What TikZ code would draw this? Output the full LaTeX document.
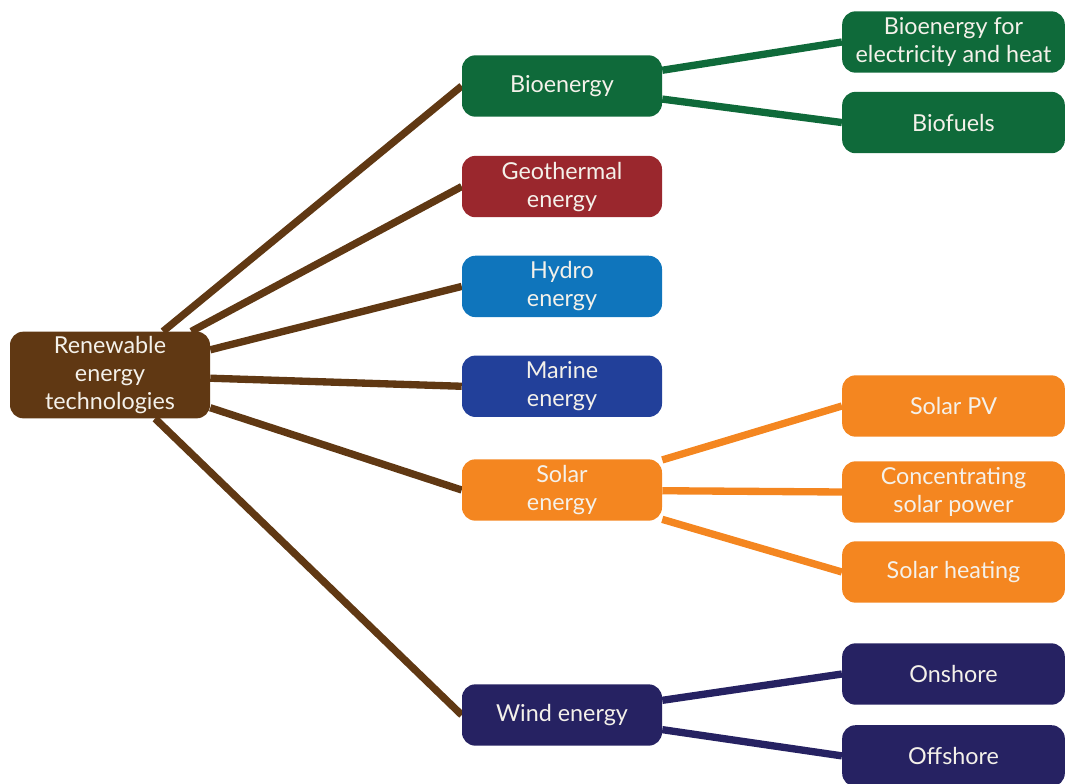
\documentclass[tikz,border=0pt]{standalone}
\usepackage{fontspec}
\setmainfont{Lato}
\usepackage{tikz}
\usetikzlibrary{positioning,backgrounds}
\usepackage{xcolor}
\definecolor{nodetext}{HTML}{F4F1EA}
\definecolor{rootbrown}{HTML}{603813}
\definecolor{biogreen}{HTML}{0F6A3A}
\definecolor{geored}{HTML}{9A272D}
\definecolor{hydroblue}{HTML}{0F75BC}
\definecolor{marineblue}{HTML}{22409A}
\definecolor{solarorange}{HTML}{F48620}
\definecolor{windnavy}{HTML}{262262}

\begin{document}
\begin{tikzpicture}[
      x=0.75pt, y=-0.75pt,
      every node/.style={font=\fontsize{17.5}{21}\selectfont, text=nodetext},
      box/.style={
        rounded corners=10pt,
        minimum width=150pt,
        minimum height=46pt,
        align=center,
        inner sep=2pt
      },
      leaf/.style={box, minimum width=167pt},
      link/.style={line width=5.5pt}
    ]
      \useasboundingbox (0,0) rectangle (1065,783);
      % root
      \node[box, fill=rootbrown, minimum height=65pt] (ret) at (110,375) {
        Renewable\\energy\\technologies
      };
      % technologies
      \node[box, fill=biogreen] (bio) at (562,86) {Bioenergy};
      \node[box, fill=geored, below=29pt of bio] (geo) {Geothermal\\energy};
      \node[box, fill=hydroblue, below=28.5pt of geo] (hydro) {Hydro\\energy};
      \node[box, fill=marineblue, below=28.5pt of hydro] (marine) {Marine\\energy};
      \node[box, fill=solarorange] (solar) at (562,490) {Solar\\energy};
      \node[box, fill=windnavy] (wind) at (562,715) {Wind energy};
      % sub-technologies
      \node[leaf, fill=biogreen] (bioheat) at (953.5,42) {Bioenergy for\\electricity and heat};
      \node[leaf, fill=biogreen, below=14pt of bioheat] (biofuel) {Biofuels};
      \node[leaf, fill=solarorange] (pv) at (953.5,406) {Solar PV};
      \node[leaf, fill=solarorange] (csp) at (953.5,492) {Concentrating\\solar power};
      \node[leaf, fill=solarorange] (sheat) at (953.5,572) {Solar heating};
      \node[leaf, fill=windnavy] (onshore) at (953.5,674) {Onshore};
      \node[leaf, fill=windnavy, below=15pt of onshore] (offshore) {Offshore};
      \begin{scope}[on background layer]
        \foreach \t in {bio,geo,hydro,marine,solar,wind}
          \draw[link, rootbrown] (ret) -- (\t.west);
        \draw[link, biogreen] (bio) -- (bioheat.west);
        \draw[link, biogreen] (bio) -- (biofuel.west);
        \draw[link, solarorange] (solar) -- (pv.west);
        \draw[link, solarorange] (solar) -- (csp.west);
        \draw[link, solarorange] (solar) -- (sheat.west);
        \draw[link, windnavy] (wind) -- (onshore.west);
        \draw[link, windnavy] (wind) -- (offshore.west);
      \end{scope}
    \end{tikzpicture}
\end{document}
